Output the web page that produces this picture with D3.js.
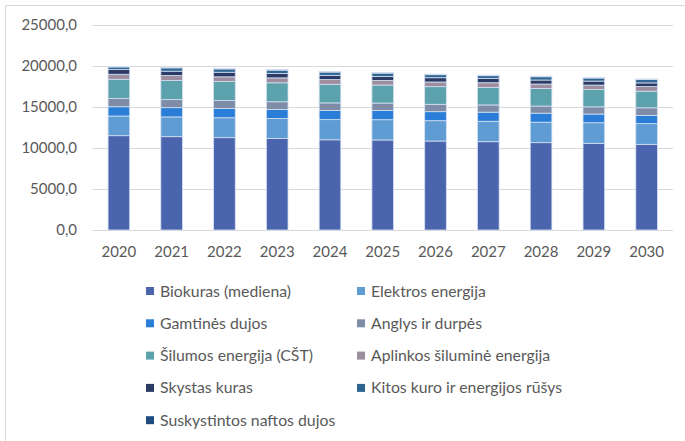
<!DOCTYPE html>
<html>
<head>
<meta charset="utf-8">
<script src="https://cdn.jsdelivr.net/npm/d3@7"></script>
<style>
  body { margin: 0; background: #fff; }
  svg { font-family: Lato, "Open Sans", sans-serif; }
</style>
</head>
<body>
<svg id="chart" width="685" height="441"></svg>
<script>
// years on the x axis
const years = ["2020", "2021", "2022", "2023", "2024", "2025", "2026", "2027", "2028", "2029", "2030"];

// series values
const biokuras     = [11500, 11380, 11260, 11150, 11000, 10980, 10850, 10770, 10650, 10570, 10450];
const elektros     = [2400, 2410, 2430, 2450, 2460, 2470, 2480, 2490, 2500, 2510, 2520];
const gamtines     = [1130, 1130, 1140, 1110, 1120, 1120, 1100, 1110, 1100, 1060, 1010];
const anglys       = [1000, 980, 950, 930, 920, 910, 900, 880, 870, 880, 920];
const silumos      = [2350, 2320, 2320, 2310, 2270, 2200, 2150, 2150, 2150, 2120, 2030];
const aplinkos     = [610, 610, 580, 600, 570, 560, 570, 560, 530, 530, 560];
const skystas      = [570, 540, 560, 540, 520, 490, 520, 530, 490, 490, 450];
const kitos        = [320, 400, 400, 400, 400, 400, 370, 330, 400, 370, 400];
const suskystintos = [80, 80, 80, 80, 80, 80, 80, 80, 80, 80, 80];

const yTicks = [0, 5000, 10000, 15000, 20000, 25000];

const seriesNames = [
  "Biokuras (mediena)", "Elektros energija", "Gamtinės dujos", "Anglys ir durpės",
  "Šilumos energija (CŠT)", "Aplinkos šiluminė energija", "Skystas kuras",
  "Kitos kuro ir energijos rūšys", "Suskystintos naftos dujos"
];
const seriesValues = [biokuras, elektros, gamtines, anglys, silumos, aplinkos, skystas, kitos, suskystintos];
const colors = ["#4a65ae", "#5f9cd3", "#2a7ed7", "#7e8ca8", "#5ba2ad", "#9e8d9f", "#2c3a66", "#2f6593", "#1f4c7f"];

const data = years.map((y, i) => {
  const row = { year: y };
  seriesNames.forEach((k, j) => row[k] = seriesValues[j][i]);
  return row;
});

const svg = d3.select("#chart");

// chart frame
svg.append("rect")
  .attr("x", 5.5).attr("y", 5.5)
  .attr("width", 700).attr("height", 460)
  .attr("fill", "none").attr("stroke", "#d9d9d9");

const x = d3.scaleBand().domain(years).range([92.5, 673])
  .paddingInner(0.59).paddingOuter(0.295);
const y = d3.scaleLinear().domain([0, 25000]).range([230, 25]);

// gridlines
svg.append("g").selectAll("line")
  .data(yTicks)
  .join("line")
  .attr("x1", 92.5).attr("x2", 673)
  .attr("y1", d => Math.round(y(d)) + 0.5).attr("y2", d => Math.round(y(d)) + 0.5)
  .attr("stroke", "#d9d9d9").attr("stroke-width", 1);

// y labels
svg.append("g").selectAll("text")
  .data(yTicks)
  .join("text")
  .attr("x", 77).attr("y", d => y(d))
  .attr("dy", "0.35em")
  .attr("text-anchor", "end")
  .attr("font-size", 15)
  .attr("fill", "#595959")
  .text(d => d3.format(".1f")(d).replace(".", ","));

// stacked bars
const stacked = d3.stack().keys(seriesNames)(data);
svg.append("g").selectAll("g")
  .data(stacked)
  .join("g")
  .attr("fill", (d, i) => colors[i])
  .selectAll("rect")
  .data(d => d)
  .join("rect")
  .attr("x", d => x(d.data.year))
  .attr("y", d => y(d[1]))
  .attr("width", x.bandwidth())
  .attr("height", d => y(d[0]) - y(d[1]))
  .attr("stroke", "#d4e0f1")
  .attr("stroke-width", 0.8);

// x labels
svg.append("g").selectAll("text")
  .data(years)
  .join("text")
  .attr("x", d => x(d) + x.bandwidth() / 2)
  .attr("y", 252)
  .attr("dy", "0.35em")
  .attr("text-anchor", "middle")
  .attr("font-size", 15)
  .attr("fill", "#595959")
  .text(d => d);

// legend, two columns
const legend = svg.append("g").selectAll("g")
  .data(seriesNames)
  .join("g")
  .attr("transform", (d, i) => `translate(${i % 2 === 0 ? 146 : 357}, ${291 + Math.floor(i / 2) * 32.3})`);

legend.append("rect")
  .attr("x", 0).attr("y", -4)
  .attr("width", 8).attr("height", 8)
  .attr("fill", (d, i) => colors[i]);

legend.append("text")
  .attr("x", 14).attr("y", 0)
  .attr("dy", "0.35em")
  .attr("font-size", 15.8)
  .attr("fill", "#595959")
  .text(d => d);
</script>
</body>
</html>
